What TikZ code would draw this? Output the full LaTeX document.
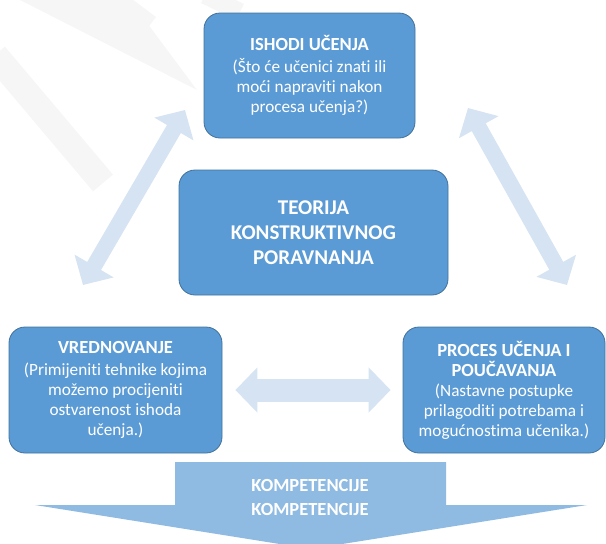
\documentclass[tikz,border=0pt]{standalone}
\usepackage{fontspec}
\setmainfont{Carlito}[Ligatures=NoCommon]
\usetikzlibrary{arrows.meta}
\definecolor{okvir}{RGB}{91,155,213}
\definecolor{rub}{RGB}{65,113,156}
\definecolor{strelica}{RGB}{213,227,242}
\definecolor{kompetencije}{RGB}{143,186,225}
\definecolor{pozadina}{RGB}{246,246,246}
\tikzset{
  kutija/.style={draw=rub, line width=0.8pt, fill=okvir, rounded corners=16pt,
    text=white, align=center, inner sep=0pt, font=\fontsize{17.2}{20}\selectfont},
  dvostruka/.style={draw=strelica, line width=#1,
    {Triangle[width=44pt,length=22pt]}-{Triangle[width=44pt,length=22pt]}},
  traka/.style={draw=pozadina, line width=#1}
}
\newcommand{\naslov}[1]{{\bfseries\fontsize{18.5}{22}\selectfont #1}}
\begin{document}
\begin{tikzpicture}[x=1pt, y=-1pt]
		\useasboundingbox (0,0) rectangle (606,544);
		% Pozadina
		\fill [pozadina] (20,0) -- (130,0) -- (197,90) -- cycle;
		\draw [traka=26pt] (-5,55) -- (103,183);
		\draw [traka=20pt] (110,-5) -- (150,25);
		\draw [traka=18pt] (205,-5) -- (240,12);
		% Okviri
		\node [kutija, minimum width=211pt, minimum height=125pt] (ishodi) at (309.5,75.5)
			{\naslov{ISHODI UČENJA}\\[2pt] (Što će učenici znati ili\\ moći napraviti nakon\\ procesa učenja?)};
		\node [kutija, minimum width=269pt, minimum height=125pt,
			font=\bfseries\fontsize{21}{25}\selectfont] (teorija) at (313.5,232.5)
			{TEORIJA\\ KONSTRUKTIVNOG\\ PORAVNANJA};
		\node [kutija, minimum width=213pt, minimum height=126pt] (vrednovanje) at (115.5,390)
			{\naslov{VREDNOVANJE}\\[2pt] (Primijeniti tehnike kojima\\ možemo procijeniti\\ ostvarenost ishoda\\ učenja.)};
		\node [kutija, minimum width=202pt, minimum height=126pt] (proces) at (504,390)
			{\naslov{PROCES UČENJA I}\\ \naslov{POUČAVANJA}\\ (Nastavne postupke\\ prilagoditi potrebama i\\ mogućnostima učenika.)};
		% Strelice
		\coordinate (ld) at (83,285);
		\coordinate (lg) at (185,110);
		\coordinate (dg) at (468,108);
		\coordinate (dd) at (567,285);
		\draw [dvostruka=16pt] (ld) -- (lg);
		\draw [dvostruka=16pt] (dg) -- (dd);
		\draw [dvostruka=23pt, shorten <=13pt, shorten >=12pt] (vrednovanje) -- (proces);
		% Kompetencije
		\fill [kompetencije] (175,462) -- (446,462) -- (446,505) -- (587,505) -- (311,549)
			-- (35,505) -- (175,505) -- cycle;
		\node [text=white, align=center, font=\bfseries\fontsize{18.5}{24}\selectfont] (kompetencije) at (310,497)
			{KOMPETENCIJE\\ KOMPETENCIJE};
\end{tikzpicture}
\end{document}
